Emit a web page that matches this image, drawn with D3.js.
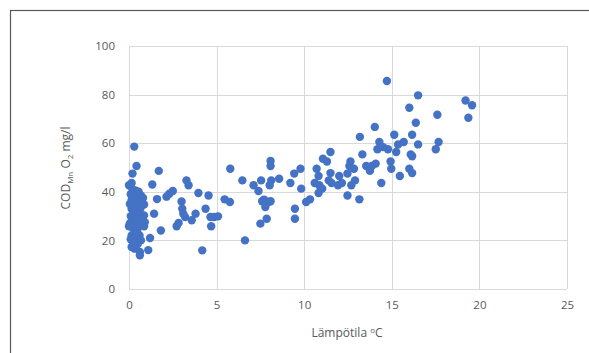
<!DOCTYPE html>
<html>
<head>
<meta charset="utf-8">
<script src="https://cdn.jsdelivr.net/npm/d3@7"></script>
<style>
  html, body { margin: 0; padding: 0; background: #fff; }
  svg { display: block; }
  .tick text { fill: #595959; font-family: "Open Sans", sans-serif; font-size: 11.5px; }
  .tick line { stroke: #d9d9d9; }
</style>
</head>
<body>
<svg id="chart" width="589" height="353"></svg>
<script>
// Water temperature (°C)
const temperature = [
  0.0, 0.0, 0.15, 0.3, 0.2, 0.43,
  0.36, 0.47, 0.68, 0.15, 0.36, 0.75, 0.86, 0.15, 0.36, 0.26, 0.58, 0.79, 0.86, 0.15,
  0.47, 0.68, 0.86, 0.26, 0.47, 0.15, 0.26, 0.68, 0.15, 0.32, 0.62, 0.62,
  0.1, 0.25, 0.55, 0.05, 0.45, 0.65, 0.25, 0.5, 0.1, 0.4, 0.7, 0.05, 0.3, 0.55, 0.2,
  0.4, 0.6, 0.35, 0.1, 0.5, 0.25, 0.55, 0.2, 0.8, 0.9, 0.45, 0.35,
  1.1, 1.2, 1.43, 1.33, 1.6, 1.7, 1.82, 2.14, 2.3, 2.5, 2.72, 2.83, 3.0, 3.04, 3.1, 3.2,
  3.28, 3.4, 3.58, 3.8, 3.96, 4.18, 4.37, 4.54, 4.65, 4.69, 4.86, 5.08, 5.46, 5.76, 5.78,
  6.47, 6.62, 7.11, 7.39, 7.5, 7.54, 7.6, 7.71, 7.78, 7.86, 7.97, 8.08, 8.08, 8.03, 8.12,
  8.08, 8.57, 9.21, 9.43, 9.47, 9.47, 9.79, 9.83, 10.11, 10.33, 10.6, 10.71, 10.82, 10.82,
  10.86, 11.07, 11.03, 11.3, 11.4, 11.5, 11.5, 11.56, 11.93, 12.0, 12.15, 12.47, 12.47,
  12.58, 12.64, 12.69, 12.84, 12.9, 13.18, 13.15, 13.32, 13.54, 13.75, 13.86, 14.03, 14.08,
  14.18, 14.29, 14.4, 14.5, 14.72, 14.78, 14.93, 14.97, 15.14, 15.25, 15.36, 15.46, 15.68,
  16.0, 16.0, 16.08, 16.16, 16.16, 16.16, 16.37, 16.5, 16.5, 17.51, 17.6, 17.67,
  19.21, 19.37, 19.58
];

// COD(Mn) O2 (mg/l), paired with the temperatures above
const cod = [
  25.8, 42.7, 43.6, 58.6, 47.5, 50.6,
  40.6, 39, 38.5, 36.5, 36, 35, 34.8, 33, 32.4, 30.3, 29.6, 29.6, 30.3, 28,
  27.6, 27, 25.8, 24.8, 24, 22, 20.3, 20, 17.3, 16.6, 15.2, 13.9,
  39, 38, 37, 35, 34, 33, 31.5, 31, 30, 29, 28.5, 27, 26.5, 26, 25.5,
  23, 22, 21.5, 20.5, 18.5, 19, 40, 41, 37.5, 27.5, 35.5, 33.8,
  16, 21, 31, 43, 37, 48.6, 24.1, 38, 39.2, 40.3, 25.8, 27.2, 36, 33, 31, 29.6,
  44.7, 42.7, 28.3, 31, 39.5, 15.9, 33, 38.5, 29.6, 25.8, 29.6, 29.9, 36.9, 35.8, 49.5,
  44.7, 20, 42.7, 40.3, 26.9, 44.7, 36.1, 36.8, 33.7, 28.9, 35.8, 52.7, 50.6, 42.7, 44.7,
  36.1, 45.4, 43.6, 47.5, 33, 28.9, 49.5, 41.3, 35.8, 36.9, 43.6, 49.5, 39.5, 46.5,
  42.7, 53.6, 41.3, 52.5, 44.7, 47.7, 56.4, 43.6, 42.7, 46.5, 43.6, 38.5, 47.5,
  50.6, 52.5, 42.7, 49.5, 44.7, 62.6, 36.9, 55.4, 50.6, 48.6, 50.6, 66.7, 51.6,
  57.5, 60.5, 43.6, 58.4, 85.6, 57.5, 52.5, 49.5, 63.5, 56.4, 59.5, 46.5, 60.5,
  74.6, 49.5, 55.4, 63.5, 54.6, 47.7, 68.4, 79.7, 59.5, 57.5, 71.7, 60.5,
  77.6, 70.5, 75.6
];

const xTicks = [0, 5, 10, 15, 20, 25];
const yTicks = [0, 20, 40, 60, 80, 100];

const svg = d3.select("#chart");

// chart area frame
svg.append("rect")
  .attr("x", 10.5).attr("y", 10.5)
  .attr("width", 640).attr("height", 400)
  .attr("fill", "#fff")
  .attr("stroke", "#595959")
  .attr("stroke-width", 1.2);

const x = d3.scaleLinear().domain([0, 25]).range([129, 567]);
const y = d3.scaleLinear().domain([0, 100]).range([289, 46]);

// horizontal gridlines + y labels
const yAxis = svg.append("g")
  .attr("transform", `translate(${x(0)},0)`)
  .call(d3.axisLeft(y).tickValues(yTicks).tickSize(-(x(25) - x(0))).tickPadding(14));
yAxis.select(".domain").remove();
yAxis.selectAll(".tick line").attr("stroke", "#d9d9d9").attr("shape-rendering", "crispEdges");

// vertical gridlines + x labels
const xAxis = svg.append("g")
  .attr("transform", `translate(0,${y(0)})`)
  .call(d3.axisBottom(x).tickValues(xTicks).tickSize(-(y(0) - y(100))).tickPadding(12));
xAxis.select(".domain").remove();
xAxis.selectAll(".tick line").attr("stroke", "#d9d9d9").attr("shape-rendering", "crispEdges");

// points
const pts = temperature.map((t, i) => ({ t, c: cod[i] }));
svg.append("g")
  .selectAll("circle")
  .data(pts)
  .join("circle")
  .attr("cx", d => x(d.t))
  .attr("cy", d => y(d.c))
  .attr("r", 4.2)
  .attr("fill", "#4472c4");

// axis titles
const titleFont = "'Open Sans', sans-serif";
const xt = svg.append("text")
  .attr("x", (x(0) + x(25)) / 2 - 1)
  .attr("y", 337)
  .attr("text-anchor", "middle")
  .attr("fill", "#595959")
  .attr("font-family", titleFont)
  .attr("font-size", 12);
xt.append("tspan").text("Lämpötila ");
xt.append("tspan").attr("font-size", 8).attr("dy", -4).text("o");
xt.append("tspan").attr("dy", 4).text("C");

const yt = svg.append("text")
  .attr("transform", "translate(70,168) rotate(-90)")
  .attr("text-anchor", "middle")
  .attr("fill", "#595959")
  .attr("font-family", titleFont)
  .attr("font-size", 12);
yt.append("tspan").text("COD");
yt.append("tspan").attr("font-size", 8).attr("dy", 3).text("Mn");
yt.append("tspan").attr("dy", -3).text(" O");
yt.append("tspan").attr("font-size", 8).attr("dy", 3).text("2");
yt.append("tspan").attr("dy", -3).text(" mg/l");
</script>
</body>
</html>
